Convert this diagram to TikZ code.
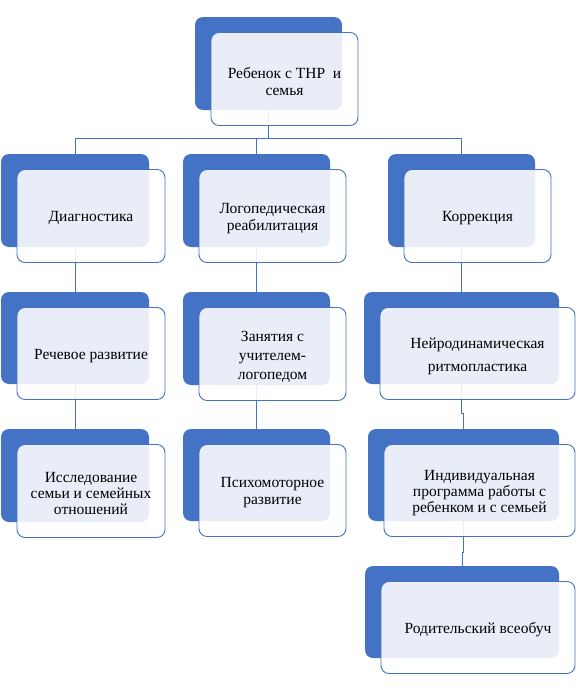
\documentclass[tikz,border=0pt]{standalone}
\usepackage{fontspec}
\setmainfont{Liberation Serif}
\usetikzlibrary{backgrounds}
\definecolor{sablue}{HTML}{4472C4}
\newcommand\unitbox[7]{%
  \node[backbox, minimum width=#4pt, minimum height=#5pt, anchor=north west] (#1b) at (#2,#3) {};
  \node[frontbox, minimum width=#4pt, minimum height=#5pt, anchor=north west] (#1f) at ({#2+16},{#3+15.5}) {};
  \node[boxtext, font=\fontsize{15.5}{#7}\selectfont] (#1t) at ([yshift=-2.5pt]#1f.center) {#6};
}
\begin{document}
\begin{tikzpicture}[x=1pt,y=-1pt,
  backbox/.style={rectangle, rounded corners=8pt, fill=sablue, draw=none, inner sep=0pt, outer sep=0pt},
  frontbox/.style={rectangle, rounded corners=8pt, fill=white, fill opacity=0.88,
                   draw=sablue, draw opacity=1, line width=0.9pt, inner sep=0pt, outer sep=0pt},
  boxtext/.style={inner sep=0pt, align=center, text=black},
  link/.style={draw=sablue, line width=1pt}]
\useasboundingbox (0,0) rectangle (578,691);
\coordinate (bus) at (0,138);
\unitbox{top}{195}{17}{147}{93}{Ребенок с ТНР\ \ и\\семья}{17}
\unitbox{diag}{1}{154}{148}{93}{Диагностика}{17}
\unitbox{logo}{183}{154}{147}{93}{Логопедическая\\реабилитация}{17}
\unitbox{korr}{388}{154}{147}{93}{Коррекция}{17}
\unitbox{rech}{1}{292}{148}{92}{Речевое развитие}{17}
\unitbox{zan}{183}{292}{147}{93}{Занятия с\\учителем-\\логопедом}{19}
\unitbox{neuro}{364}{292}{195}{92}{Нейродинамическая\\ритмопластика}{23}
\unitbox{issl}{1}{429}{148}{93}{Исследование\\семьи и семейных\\отношений}{16}
\unitbox{psych}{183}{429}{147}{92}{Психомоторное\\развитие}{17}
\unitbox{indiv}{368}{429}{191}{92}{Индивидуальная\\программа работы с\\ребенком и с семьей}{16}
\unitbox{rod}{365}{566}{194}{92}{Родительский всеобуч}{17}
\begin{scope}[on background layer]
  \draw[link] (topb.south) -- (topb.south |- bus) -| (diagb.north);
  \draw[link] (topb.south) -- (topb.south |- bus) -| (logob.north);
  \draw[link] (topb.south) -- (topb.south |- bus) -| (korrb.north);
  \draw[link] (diagb.south) -- (rechb.north);
  \draw[link] (rechb.south) -- (isslb.north);
  \draw[link] (logob.south) -- (zanb.north);
  \draw[link] (zanb.south) -- (psychb.north);
  \draw[link] (korrb.south) -- (neurob.north);
  \draw[link] (neurob.south) -- ++(0,29) -| (indivb.north);
  \draw[link] (indivb.south) -- ++(0,31) -| (rodb.north);
\end{scope}
\end{tikzpicture}
\end{document}
